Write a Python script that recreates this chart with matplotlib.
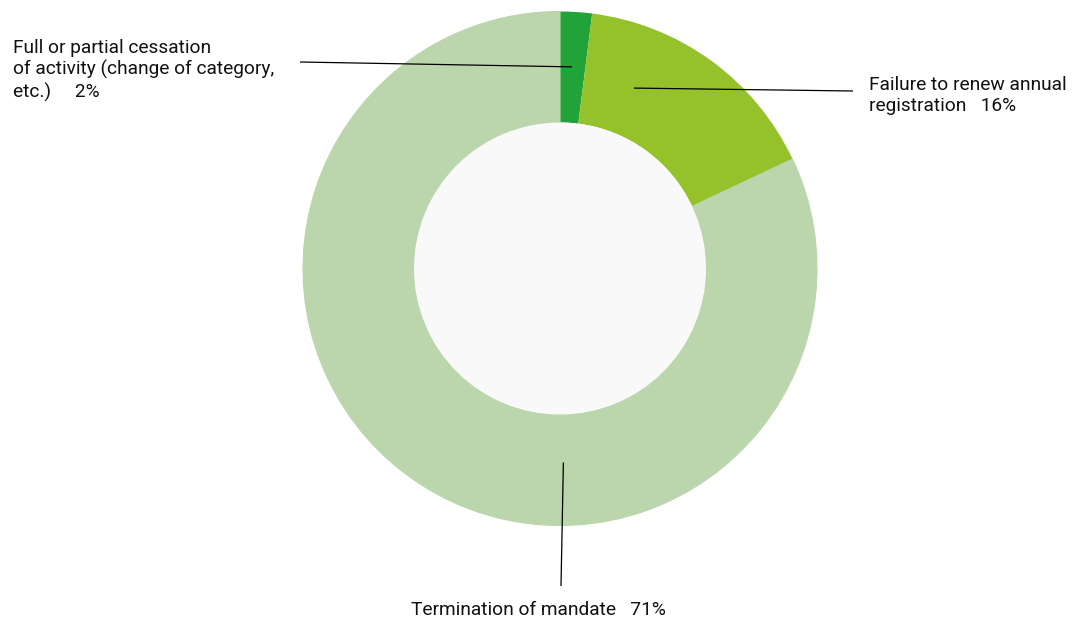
import numpy as np
import matplotlib
matplotlib.use("Agg")
import matplotlib.pyplot as plt
from matplotlib.patches import Circle
from matplotlib import font_manager

# ---- data ----
categories = ["Full or partial cessation\nof activity (change of category,\netc.)",
              "Failure to renew annual\nregistration",
              "Termination of mandate",
              ""]
values = [2, 16, 71, 11]          # last share is drawn in the same colour, unlabeled
pct_labels = ["2%", "16%", "71%", ""]
colors = ["#22a33a", "#95c12b", "#bbd6ac", "#bbd6ac"]

names = {f.name for f in font_manager.fontManager.ttflist}
fam = [f for f in ["Liberation Sans Narrow", "Roboto", "DejaVu Sans"] if f in names]
plt.rcParams["font.family"] = fam

W, H = 1076, 624
fig = plt.figure(figsize=(W / 100, H / 100), dpi=100)
ax = fig.add_axes([0, 0, 1, 1])
ax.set_xlim(0, W)
ax.set_ylim(0, H)
ax.axis("off")

cx, cy = 560, H - 268.5
R, r_in = 257, 146
wedges, _ = ax.pie(values, colors=colors, startangle=90, counterclock=False,
                   radius=R, center=(cx, cy), frame=False,
                   wedgeprops=dict(width=R - r_in, linewidth=0))
for w, c in zip(wedges, colors):
    if c == colors[2]:
        w.set_edgecolor(c)
        w.set_linewidth(0.8)
ax.add_patch(Circle((cx, cy), r_in, fc="#f9f9f9", ec="none", zorder=3))
ax.set_xlim(0, W)
ax.set_ylim(0, H)
ax.set_aspect("equal")

# label layout: (anchor angle deg clockwise from top, anchor radius, line end (px), text pos (px), ha)
layout = [
    (3.4, 202, (300, 62), (13, 39), "left", "top"),
    (22.3, 195, (853, 91), (869, 76), "left", "top"),
    (179.0, 194, (561, 586), (538, 601), "center", "top"),
]
fs = 13.8
for i, (ang, rr, end, tpos, ha, va) in enumerate(layout):
    a = np.deg2rad(ang)
    x0 = cx + rr * np.sin(a)
    y0 = cy + rr * np.cos(a)
    ax.plot([x0, end[0]], [y0, H - end[1]], color="black", lw=0.9, zorder=5,
            solid_capstyle="butt")
    lab = categories[i]
    sep = "   " if i != 0 else "     "
    txt = lab + sep + pct_labels[i]
    ax.text(tpos[0], H - tpos[1], txt, ha=ha, va=va, fontsize=fs,
            color="#111111", linespacing=1.22, zorder=6, multialignment="left")

fig.savefig("out.png", dpi=100, facecolor="white")
